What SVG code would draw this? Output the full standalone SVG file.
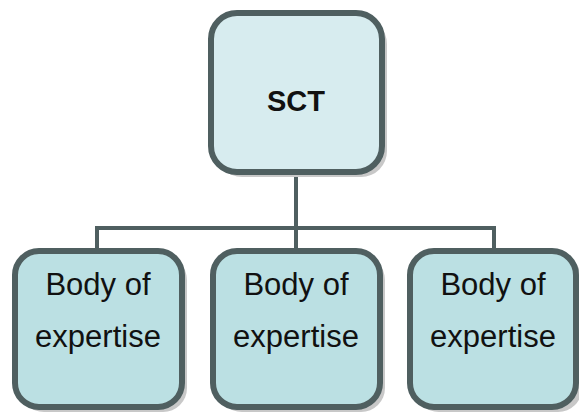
<svg xmlns="http://www.w3.org/2000/svg" width="579" height="412" viewBox="0 0 579 412">
<defs>
<style>
.box{stroke:#4f5f60;stroke-width:6}
.top{fill:#d7ecef}
.sub{fill:#bbe0e3}
.sh{fill:#c8c8c8}
.t{font-family:"Liberation Sans",Arial,sans-serif;font-size:31px;fill:#111;text-anchor:middle}
.tb{font-family:"Liberation Sans",Arial,sans-serif;font-size:29px;font-weight:bold;fill:#111;text-anchor:middle}
.c{fill:none;stroke:#4f5f60;stroke-width:4}
</style>
</defs>
<g id="connectors">
<path class="c" d="M296 175 V228 M97 250 V228 H494 V250 M296 228 V250"/>
</g>
<g id="sct">
<rect class="sh" x="216" y="18" width="171" height="159" rx="26"/>
<rect class="box top" x="211" y="13" width="171" height="159" rx="26"/>
<text class="tb" x="296" y="111">SCT</text>
</g>
<g id="body1">
<rect class="sh" x="20" y="256" width="167" height="156" rx="24"/>
<rect class="box sub" x="15" y="251" width="167" height="156" rx="24"/>
<text class="t" x="98" y="295">Body of</text>
<text class="t" x="98" y="347">expertise</text>
</g>
<g id="body2">
<rect class="sh" x="218" y="256" width="167" height="156" rx="24"/>
<rect class="box sub" x="213" y="251" width="167" height="156" rx="24"/>
<text class="t" x="296" y="295">Body of</text>
<text class="t" x="296" y="347">expertise</text>
</g>
<g id="body3">
<rect class="sh" x="415" y="256" width="167" height="156" rx="24"/>
<rect class="box sub" x="410" y="251" width="166" height="156" rx="24"/>
<text class="t" x="493" y="295">Body of</text>
<text class="t" x="493" y="347">expertise</text>
</g>
</svg>
